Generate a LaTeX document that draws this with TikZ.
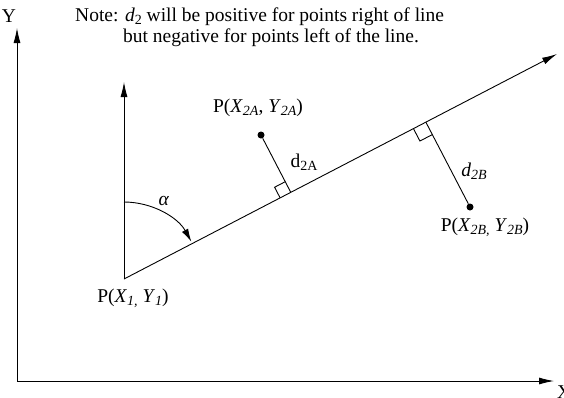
\documentclass[tikz,border=0pt]{standalone}
\usepackage{fontspec}
\setmainfont{Liberation Serif}
\usetikzlibrary{calc,arrows.meta}
\newcommand\mysub[1]{\raisebox{-0.35ex}{\fontsize{14}{14}\selectfont #1}}
\begin{document}
\begin{tikzpicture}[x=1pt,y=-1pt,
  lbl/.style={font=\fontsize{19.5}{23}\selectfont, inner sep=0pt},
  ln/.style={line width=0.9pt},
  arr/.style={ln,-{Latex[length=15pt,width=7pt]}},
  dotpt/.style={circle,fill=black,inner sep=0pt,minimum size=7pt}]
\useasboundingbox (0,0) rectangle (564,397);
% axes
\coordinate (Or) at (17,381);
\coordinate (Ytip) at (17,28);
\coordinate (Xtip) at (554,381);
\draw[arr] (Or) -- (Ytip);
\draw[arr] (Or) -- (Xtip);
\node[lbl] (Ylab) at (9,16) {Y};
\node[lbl,anchor=west] (Xlab) at (557,392) {X};
% origin and line
\coordinate (O) at (124,279);
\coordinate (Vt) at (124,82);
\coordinate (T) at (557,54);
\draw[arr] (O) -- (Vt);
\draw[arr] (O) -- (T);
% alpha arc
\draw[ln,-{Latex[length=13pt,width=7pt]}] (124,202) arc[start angle=-90,end angle=-29,radius=77];
\node[lbl] (alpha) at (164,201) {\textit{α}};
% points
\node[dotpt] (A) at (261,135) {};
\node[dotpt] (B) at (470,207) {};
\coordinate (FA) at ($(O)!(A)!(T)$);
\coordinate (FB) at ($(O)!(B)!(T)$);
\draw[ln] (A) -- (FA);
\draw[ln] (B) -- (FB);
% right-angle marks
\coordinate (FA1) at ($(FA)!12pt!(O)$);
\coordinate (FA2) at ($(FA)!12pt!(A)$);
\draw[ln] (FA1) -- ($(FA1)+(FA2)-(FA)$) -- (FA2);
\coordinate (FB1) at ($(FB)!14pt!(O)$);
\coordinate (FB2) at ($(FB)!14pt!(B)$);
\draw[ln] (FB1) -- ($(FB1)+(FB2)-(FB)$) -- (FB2);
% labels
\node[lbl] (PA) at (258,108) {P(\textit{X}\mysub{\textit{2A}}, \textit{Y}\mysub{\textit{2A}})};
\node[lbl] (dA) at (304,162) {d\mysub{2A}};
\node[lbl] (dB) at (474,171) {\textit{d}\mysub{\textit{2B}}};
\node[lbl] (PB) at (485,227) {P(\textit{X}\mysub{\textit{2B,}} \textit{Y}\mysub{\textit{2B}})};
\node[lbl] (P1) at (133,298) {P(\textit{X}\mysub{\textit{1,}} \textit{Y}\mysub{\textit{1}})};
\node[lbl,anchor=west] (note1) at (75,17) {Note: \textit{d}\mysub{2} will be positive for points right of line};
\node[lbl,anchor=west] (note2) at (123,38) {but negative for points left of the line.};
\end{tikzpicture}
\end{document}
